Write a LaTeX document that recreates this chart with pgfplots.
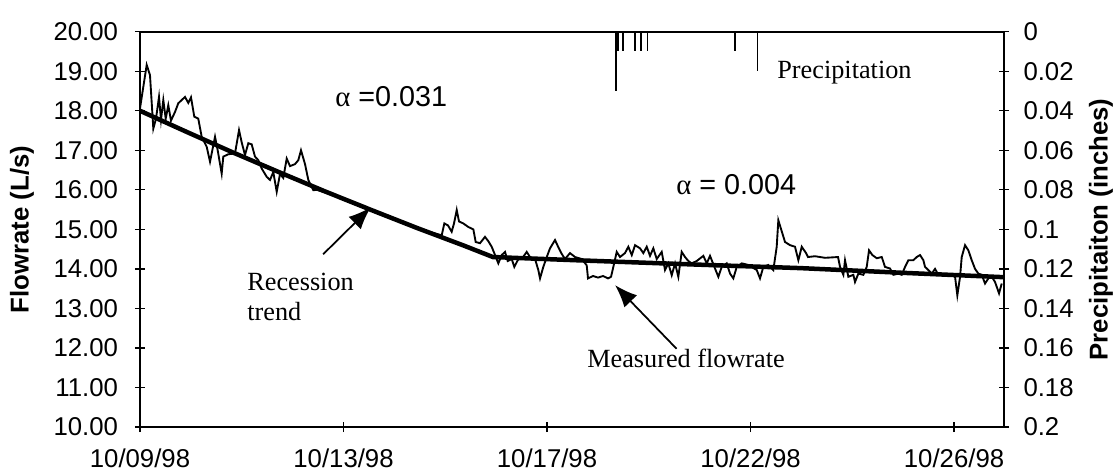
\documentclass[border=0pt]{standalone}
\usepackage{pgfplots}
\pgfplotsset{compat=1.18}
\usepackage{fontspec}
\setmainfont{Liberation Sans}
\newfontfamily\serif{Liberation Serif}
\usetikzlibrary{arrows.meta}

\begin{document}
\begin{tikzpicture}
\begin{axis}[
  name=main,
  scale only axis,
  width=345.6pt, height=158.12pt,
  xmin=0, xmax=18.68, ymin=10, ymax=20,
  xtick={0,4.4,8.8,13.2,17.6},
  xticklabels={10/09/98,10/13/98,10/17/98,10/22/98,10/26/98},
  ytick={10,11,12,13,14,15,16,17,18,19,20},
  yticklabels={10.00,11.00,12.00,13.00,14.00,15.00,16.00,17.00,18.00,19.00,20.00},
  xtick pos=bottom, ytick pos=left,
  tick align=center,
  major tick length=4pt,
  every tick/.style={black, line width=0.5pt},
  axis line style={line width=0.9pt},
  tick label style={font=\fontsize{10.3}{12}\selectfont, inner sep=0pt},
  xticklabel shift=6.4pt,
  yticklabel shift=6.6pt,
  /pgf/number format/assume math mode=true,
  ylabel={\textbf{Flowrate (L/s)}},
  ylabel style={font=\fontsize{10.3}{12}\selectfont, at={(axis description cs:-0.1366,0.5)}, anchor=center},
]
\addplot[black, line width=0.75pt, line join=miter] coordinates {
(0,18.06) (0.145,19.16) (0.216,18.9) (0.288,17.55) (0.346,17.8) (0.411,18.35) (0.454,17.77) (0.504,18.27) (0.556,17.8) (0.612,18.14) (0.670,17.75) (0.757,17.97) (0.828,18.19) (0.973,18.35) (1.044,18.2) (1.103,18.34) (1.174,17.85) (1.260,17.8) (1.334,17.34) (1.442,17.09) (1.514,16.71) (1.622,17.34) (1.680,17.0) (1.766,16.41) (1.801,16.84) (1.909,16.9) (2.054,16.92) (2.141,17.51) (2.199,17.2) (2.270,16.88) (2.342,17.18) (2.415,17.15) (2.486,16.84) (2.558,16.75) (2.631,16.54) (2.739,16.33) (2.811,16.25) (2.882,16.45) (2.956,15.95) (3.027,16.4) (3.098,16.3) (3.172,16.79) (3.243,16.6) (3.351,16.65) (3.423,16.75) (3.481,17.0) (3.568,16.65) (3.639,16.25) (3.747,15.99) (3.821,16.0)
(4.324,15.81) (5.189,15.38) (6.054,15.0)
(6.523,14.85) (6.580,15.15) (6.659,15.1) (6.739,14.94) (6.789,15.15) (6.848,15.49) (6.897,15.2) (6.990,15.15) (7.098,15.06) (7.207,15.0) (7.258,14.68) (7.351,14.65) (7.459,14.81) (7.531,14.7) (7.604,14.56) (7.676,14.35) (7.747,14.14) (7.821,14.35) (7.892,14.43) (7.950,14.2) (8.037,14.25) (8.093,14.05) (8.180,14.25) (8.253,14.25) (8.361,14.43) (8.432,14.3) (8.541,14.25) (8.612,13.97) (8.649,13.76) (8.720,14.05) (8.794,14.3) (8.865,14.52) (8.973,14.73) (9.044,14.55) (9.118,14.38) (9.189,14.25) (9.297,14.4) (9.405,14.3) (9.550,14.25) (9.658,14.09) (9.686,13.76) (9.795,13.82) (9.903,13.78) (10.011,13.82) (10.119,13.76) (10.184,13.8) (10.234,14.05) (10.307,14.43) (10.378,14.3) (10.486,14.4) (10.558,14.56) (10.632,14.35) (10.703,14.6) (10.811,14.52) (10.882,14.4) (10.956,14.56) (11.027,14.33) (11.098,14.52) (11.172,14.25) (11.280,14.43) (11.351,13.97) (11.423,14.14) (11.496,13.84) (11.568,14.14) (11.639,13.8) (11.712,14.43) (11.784,14.3) (11.855,14.2) (11.929,14.14) (12.037,14.2) (12.180,14.33) (12.253,14.14) (12.324,14.33) (12.432,14.01) (12.504,13.8) (12.577,14.05) (12.685,14.14) (12.757,13.88) (12.828,13.76) (12.902,14.05) (13.010,14.14) (13.153,14.1) (13.335,13.97) (13.405,13.76) (13.477,14.05) (13.585,14.1) (13.693,13.97) (13.766,14.56) (13.801,15.23) (13.875,14.95) (13.946,14.68) (14.054,14.6) (14.162,14.56) (14.234,14.22) (14.307,14.56) (14.400,14.4) (14.443,14.3) (14.595,14.32) (14.811,14.28) (15.092,14.3) (15.135,14.05) (15.207,13.85) (15.243,14.22) (15.315,13.8) (15.423,13.85) (15.459,13.67) (15.531,13.88) (15.639,13.85) (15.712,14.05) (15.762,14.47) (15.834,14.35) (15.929,14.27) (16.037,14.3) (16.108,14.05) (16.216,14.01) (16.288,13.85) (16.396,13.88) (16.469,13.85) (16.541,14.05) (16.612,14.22) (16.720,14.22) (16.793,14.3) (16.865,14.35) (16.936,14.22) (16.973,14.05) (17.045,13.97) (17.118,13.88) (17.189,14.0) (17.261,13.85) (17.405,13.85) (17.550,13.85) (17.622,13.8) (17.671,13.33) (17.730,13.8) (17.766,14.3) (17.838,14.6) (17.909,14.47) (17.982,14.22) (18.054,14.0) (18.126,13.88) (18.199,13.85) (18.270,13.63) (18.342,13.76) (18.415,13.8) (18.486,13.67) (18.573,13.38) (18.631,13.63)
};
\addplot[black, line width=1.8pt] coordinates {
(0,18.00) (1,17.47) (2,16.95) (3,16.45) (4,15.96) (5,15.49) (6,15.03) (7,14.59) (7.63,14.30) (9.4,14.22) (12,14.11) (14.27,14.02) (16.5,13.9) (18.68,13.79)
};
\node[font=\fontsize{11.5}{13}\selectfont, anchor=center] at (axis cs:5.43,18.35) {{\serif α} =0.031};
\node[font=\fontsize{11.5}{13}\selectfont, anchor=center] at (axis cs:12.89,16.14) {{\serif α} = 0.004};
\node[font=\serif\fontsize{10.5}{12}\selectfont, anchor=base west, inner sep=0pt] at (axis cs:13.77,18.82) {Precipitation};
\node[font=\serif\fontsize{10.5}{12}\selectfont, anchor=base west, inner sep=0pt] at (axis cs:2.31,13.46) {Recession};
\node[font=\serif\fontsize{10.5}{12}\selectfont, anchor=base west, inner sep=0pt] at (axis cs:2.31,12.685) {trend};
\node[font=\serif\fontsize{10.5}{12}\selectfont, anchor=base west, inner sep=0pt] at (axis cs:9.66,11.50) {Measured flowrate};
\draw[-{Latex[length=9pt,width=7pt]}, line width=0.7pt] (axis cs:3.96,14.37) -- (axis cs:4.99,15.56);
\draw[-{Latex[length=9pt,width=7pt]}, line width=0.7pt] (axis cs:11.60,11.98) -- (axis cs:10.27,13.59);
\end{axis}
\begin{axis}[
  scale only axis,
  width=345.6pt, height=158.12pt,
  xmin=0, xmax=18.68, ymin=0, ymax=0.2,
  y dir=reverse,
  axis x line=none,
  axis y line*=right,
  ytick={0,0.02,0.04,0.06,0.08,0.1,0.12,0.14,0.16,0.18,0.2},
  yticklabels={0,0.02,0.04,0.06,0.08,0.1,0.12,0.14,0.16,0.18,0.2},
  ytick pos=right,
  tick align=center,
  major tick length=4pt,
  every tick/.style={black, line width=0.5pt},
  axis line style={line width=0.9pt},
  tick label style={font=\fontsize{10.3}{12}\selectfont, inner sep=0pt},
  yticklabel shift=5.6pt,
  ylabel={\textbf{Precipitaiton (inches)}},
  ylabel style={font=\fontsize{10.3}{12}\selectfont, at={(axis description cs:1.1123,0.5)}, anchor=center, rotate=0},
]
\addplot[ycomb, black, line width=0.7pt] coordinates {
(10.29,0.03) (10.34,0.01) (10.45,0.01) (10.70,0.01) (10.83,0.01) (10.97,0.01) (12.86,0.01) (13.35,0.02)
};
\end{axis}
\pgfresetboundingbox
\path[use as bounding box] ([xshift=-56pt,yshift=-17.6pt]main.south west) rectangle ([xshift=44pt,yshift=12.68pt]main.north east);
\end{tikzpicture}
\end{document}
